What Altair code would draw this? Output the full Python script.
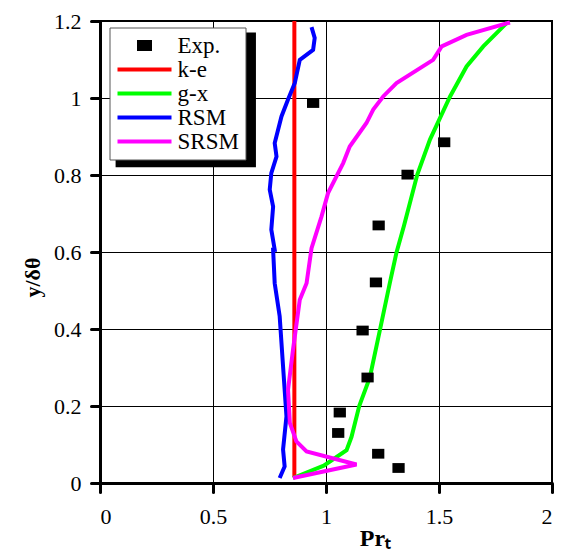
import altair as alt
import pandas as pd

# ---- data ----
series_names = ["Exp.", "k-e", "g-x", "RSM", "SRSM"]
series_colors = ["#000000", "#ff0000", "#00ff00", "#0000ff", "#ff00ff"]
# legend glyphs: small square for data, long stroke for models
LEG_SQUARE = "M1.15,-0.35H2.25V0.35H1.15Z"
LEG_LINE = "M-1,0H4.4"
series_shapes = [LEG_SQUARE, LEG_LINE, LEG_LINE, LEG_LINE, LEG_LINE]
PLOT_SQUARE = "M-1,-0.8H1V0.8H-1Z"

exp_x = [0.943, 1.523, 1.361, 1.233, 1.221, 1.162, 1.184, 1.061, 1.054, 1.231, 1.321]
exp_y = [0.987, 0.885, 0.801, 0.669, 0.521, 0.396, 0.274, 0.183, 0.130, 0.076, 0.039]

ke_x = [0.86, 0.86]
ke_y = [0.015, 1.2]

gx_x = [0.854, 0.99, 1.091, 1.113, 1.147, 1.194, 1.238, 1.283, 1.312, 1.345, 1.404, 1.460, 1.549, 1.622, 1.696, 1.800]
gx_y = [0.013, 0.045, 0.085, 0.120, 0.200, 0.274, 0.396, 0.521, 0.599, 0.668, 0.801, 0.892, 1.004, 1.082, 1.134, 1.195]

rsm_x = [0.795, 0.817, 0.810, 0.825, 0.810, 0.795, 0.773, 0.766, 0.773, 0.758, 0.766, 0.751, 0.758, 0.781, 0.773, 0.803, 0.832, 0.862, 0.884, 0.943, 0.950, 0.936]
rsm_y = [0.013, 0.043, 0.087, 0.173, 0.303, 0.433, 0.519, 0.606, 0.606, 0.658, 0.718, 0.762, 0.805, 0.848, 0.883, 0.952, 0.996, 1.039, 1.099, 1.125, 1.156, 1.184]

srsm_x = [0.854, 1.135, 0.914, 0.869, 0.840, 0.832, 0.854, 0.884, 0.914, 0.936, 0.980, 1.009, 1.076, 1.105, 1.179, 1.209, 1.253, 1.312, 1.474, 1.512, 1.622, 1.814]
srsm_y = [0.013, 0.048, 0.082, 0.108, 0.156, 0.242, 0.346, 0.476, 0.519, 0.610, 0.692, 0.753, 0.831, 0.874, 0.935, 0.970, 1.004, 1.039, 1.099, 1.134, 1.164, 1.196]

x_ticks = [0, 0.5, 1, 1.5, 2]
y_ticks = [0, 0.2, 0.4, 0.6, 0.8, 1.0, 1.2]

# legend shadow box (data units, decoration behind the legend)
shadow_x = [0.069, 0.690]
shadow_y = [1.170, 0.820]

# ---- tables ----
rows = []
for name, xs, ys in [("k-e", ke_x, ke_y), ("g-x", gx_x, gx_y), ("RSM", rsm_x, rsm_y), ("SRSM", srsm_x, srsm_y)]:
    for i, (a, b) in enumerate(zip(xs, ys)):
        rows.append({"series": name, "x": a, "y": b, "i": i})
lines_df = pd.DataFrame(rows)
exp_df = pd.DataFrame({"series": ["Exp."] * len(exp_x), "x": exp_x, "y": exp_y})
shadow_df = pd.DataFrame({"x": [shadow_x[0]], "x2": [shadow_x[1]], "y": [shadow_y[0]], "y2": [shadow_y[1]]})

SERIF = "Liberation Serif"

xenc = alt.X("x:Q", scale=alt.Scale(domain=[0, 2], nice=False),
             axis=alt.Axis(values=x_ticks, format="~g", title="Prₜ",
                           titleX=275, titleY=62, titleAlign="center",
                           titleBaseline="alphabetic", titleFontSize=24,
                           titleFontWeight="bold", titleFont=SERIF,
                           labelPadding=14))
yenc = alt.Y("y:Q", scale=alt.Scale(domain=[0, 1.2], nice=False),
             axis=alt.Axis(values=y_ticks, format="~g", title="y/δθ",
                           titleX=-68, titleY=256, titleAlign="center",
                           titleBaseline="middle", titleAngle=270,
                           titleFontSize=22, titleFontWeight="bold",
                           titleFont=SERIF, labelPadding=10))

stroke_scale = alt.Scale(domain=series_names, range=series_colors)
fill_scale = alt.Scale(domain=series_names, range=series_colors)
shape_scale = alt.Scale(domain=series_names, range=series_shapes)
leg = alt.Legend(title=None)

shadow = alt.Chart(shadow_df).mark_rect(fill="black", opacity=1).encode(
    x="x:Q", x2="x2:Q", y="y:Q", y2="y2:Q"
)

lines = alt.Chart(lines_df).mark_line(strokeWidth=4).encode(
    x=xenc, y=yenc,
    stroke=alt.Stroke("series:N", scale=stroke_scale, legend=leg),
    order=alt.Order("i:Q"),
)

points = alt.Chart(exp_df).mark_point(
    shape=PLOT_SQUARE, size=150, filled=True, opacity=1, color="black"
).encode(x=xenc, y=yenc)

# empty layer that only feeds the legend with its glyph shapes
legend_feed = alt.Chart(exp_df).transform_filter("false").mark_point(
    filled=False, opacity=1
).encode(
    x=xenc, y=yenc,
    stroke=alt.Stroke("series:N", scale=stroke_scale, legend=leg),
    fill=alt.Fill("series:N", scale=fill_scale, legend=leg),
    shape=alt.Shape("series:N", scale=shape_scale, legend=leg),
)

chart = alt.layer(shadow, lines, points, legend_feed).properties(
    width=452, height=462,
    autosize=alt.AutoSizeParams(type="none"),
    padding={"left": 92, "top": 13, "right": 8, "bottom": 68},
).configure_view(
    stroke="black", strokeWidth=2
).configure_axis(
    domainColor="black", domainWidth=3,
    tickColor="black", tickWidth=3, tickSize=9, tickCap="round",
    gridColor="black", gridWidth=1, gridOpacity=1,
    labelFont=SERIF, labelFontSize=22, labelColor="black",
    titleColor="black",
).configure_legend(
    orient="none", legendX=9.5, legendY=6.5,
    strokeColor="#555555", fillColor="white", padding=6,
    labelFont=SERIF, labelFontSize=23, labelColor="black",
    symbolSize=400, symbolStrokeWidth=4, rowPadding=-4, labelOffset=38,
)

chart.save("out.html", embed_options={"renderer": "svg", "actions": False})
